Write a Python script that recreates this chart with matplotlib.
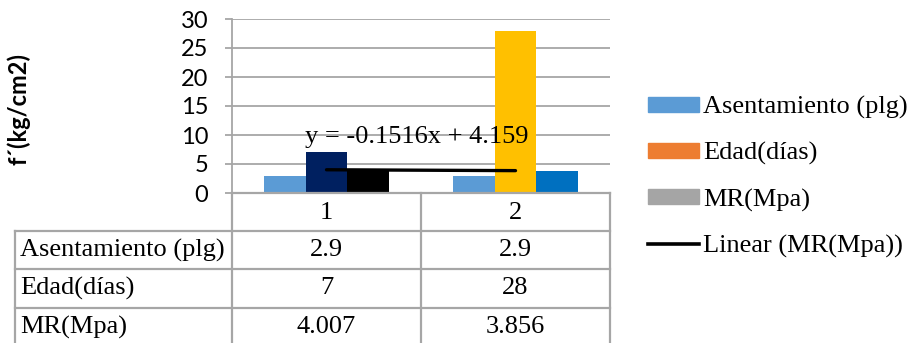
import numpy as np
import matplotlib
matplotlib.use("Agg")
import matplotlib.pyplot as plt
from matplotlib.patches import Patch
from matplotlib.lines import Line2D

# chart data
categories = ["1", "2"]
series_names = ["Asentamiento (plg)", "Edad(días)", "MR(Mpa)"]
asentamiento = [2.9, 2.9]
edad = [7, 28]
mr = [4.007, 3.856]
table_text = [["2.9", "2.9"], ["7", "28"], ["4.007", "3.856"]]

# linear trend of MR as printed on the chart
trend_slope = -0.1516
trend_intercept = 4.159

# each point has its own fill (vary colours by point)
point_colors = [["#5B9BD5", "#5B9BD5"],
                ["#002060", "#FFC000"],
                ["#000000", "#0070C0"]]
legend_colors = ["#5B9BD5", "#ED7D31", "#A5A5A5"]

W, H = 917, 343
SERIF = "Liberation Serif"
SANS = "Lato"
GRID = "#A6A6A6"

fig = plt.figure(figsize=(W / 100, H / 100), dpi=100)

# plot area in pixels
left, right, top, bottom = 232, 610, 19, 193
ax = fig.add_axes([left / W, 1 - bottom / H, (right - left) / W, (bottom - top) / H])

x = np.arange(1, len(categories) + 1)
bw = 0.222
for i, vals in enumerate([asentamiento, edad, mr]):
    ax.bar(x + (i - 1) * bw, vals, width=bw, color=point_colors[i], zorder=3)

# trendline between the two categories
tx = np.array([1, 2])
ax.plot(tx, trend_slope * tx + trend_intercept, color="black", lw=2.4,
        solid_capstyle="round", zorder=4)
ax.text(1.48, 9.7, "y = -0.1516x + 4.159", fontsize=19, family=SERIF,
        ha="center", va="center", zorder=5)

ax.set_xlim(0.5, 2.5)
ax.set_ylim(0, 30)
ax.set_yticks(range(0, 31, 5))
ax.set_xticks([])
ax.yaxis.grid(True, color=GRID, lw=1.3, zorder=0)
for s in ["top", "right", "bottom"]:
    ax.spines[s].set_visible(False)
ax.spines["left"].set_color(GRID)
ax.spines["left"].set_linewidth(1.3)
ax.tick_params(axis="y", length=5, width=1.3, color=GRID, labelsize=17, pad=12)
for lab in ax.get_yticklabels():
    lab.set_family(SANS)

fig.text(19 / W, 1 - 109 / H, "f´(kg/cm2)", rotation=90, fontsize=17,
         fontweight="bold", family=SANS, ha="center", va="center")

# data table below the axis, drawn in pixel space
tab = fig.add_axes([0, 0, 1, 1])
tab.set_xlim(0, W)
tab.set_ylim(H, 0)
tab.axis("off")

tbl_left = 15
col_edges = [left, (left + right) / 2, right]
row_edges = [bottom, 231, 269, 308, 346]
lw_t = 1.6
tab.plot([left, right], [bottom, bottom], color=GRID, lw=lw_t)
for ry in row_edges[1:4]:
    tab.plot([tbl_left, right], [ry, ry], color=GRID, lw=lw_t)
for cx in col_edges:
    tab.plot([cx, cx], [bottom, H], color=GRID, lw=lw_t)
tab.plot([tbl_left, tbl_left], [row_edges[1], H], color=GRID, lw=lw_t)

for j, cat in enumerate(categories):
    cx = (col_edges[j] + col_edges[j + 1]) / 2
    tab.text(cx, (row_edges[0] + row_edges[1]) / 2 + 1, cat, fontsize=19,
             family=SERIF, ha="center", va="center")
for i, name in enumerate(series_names):
    cy = (row_edges[i + 1] + row_edges[i + 2]) / 2
    tab.text(tbl_left + 5, cy, name, fontsize=19, family=SERIF,
             ha="left", va="center")
    for j in range(len(categories)):
        cx = (col_edges[j] + col_edges[j + 1]) / 2
        tab.text(cx, cy, table_text[i][j], fontsize=19, family=SERIF,
                 ha="center", va="center")

# legend
handles = [Patch(color=c) for c in legend_colors]
handles.append(Line2D([], [], color="black", lw=2.6))
labels = series_names + ["Linear (MR(Mpa))"]
fig.legend(handles, labels, loc="upper left",
           bbox_to_anchor=(648 / W, 1 - 96 / H),
           frameon=False, prop={"family": SERIF, "size": 19},
           handlelength=1.95, handleheight=0.5, handletextpad=0.15,
           labelspacing=0.88, borderpad=0, borderaxespad=0)

fig.savefig("out.png", dpi=100)
